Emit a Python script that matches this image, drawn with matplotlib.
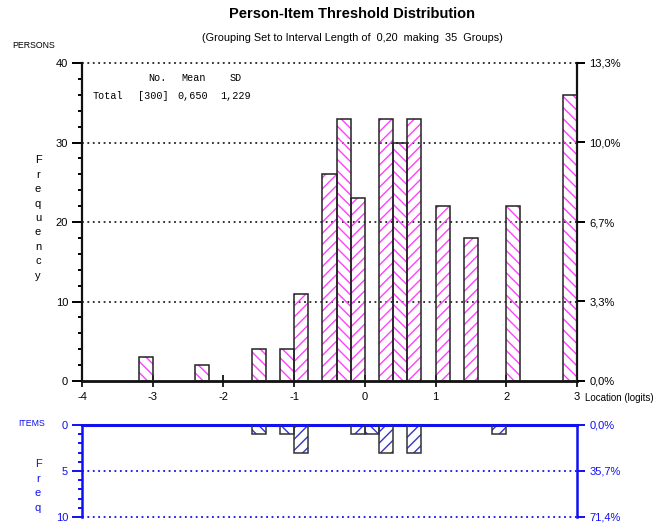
import matplotlib
matplotlib.use("Agg")
import matplotlib.pyplot as plt
from matplotlib.ticker import MultipleLocator

plt.rcParams['axes.unicode_minus'] = False
plt.rcParams['hatch.linewidth'] = 1.0

NARROW = ['Liberation Sans', 'DejaVu Sans']
MONO = ['Liberation Mono', 'DejaVu Sans Mono']

# ---- data ----
title = "Person-Item Threshold Distribution"
subtitle = "(Grouping Set to Interval Length of  0,20  making  35  Groups)"
interval = 0.2
person_bin_left = [-3.2, -2.4, -1.6, -1.2, -1.0, -0.6, -0.4, -0.2, 0.2, 0.4, 0.6, 1.0, 1.4, 2.0, 2.8]
person_counts = [3, 2, 4, 4, 11, 26, 33, 23, 33, 30, 33, 22, 18, 22, 36]
item_bin_left = [-1.6, -1.2, -1.0, -0.2, 0.0, 0.2, 0.6, 1.8]
item_counts = [1, 1, 3, 1, 1, 3, 3, 1]
n_persons = 300
n_items = 14
stats_header = ["No.", "Mean", "SD"]
stats_values = ["Total", "[300]", "0,650", "1,229"]
x_ticks = [-4, -3, -2, -1, 0, 1, 2, 3]
person_yticks = [0, 10, 20, 30, 40]
item_yticks = [0, 5, 10]

W, H = 662, 528
fig = plt.figure(figsize=(W / 100, H / 100), dpi=100)

def fx(px):
    return px / W

def fy(py):
    return 1 - py / H

def pct(v, n):
    return f"{v / n * 100:.1f}%".replace('.', ',')

def hatch_for(left):
    idx = int(round((left + 4) / interval))
    return '\\\\\\' if idx % 2 == 0 else '///'

BLUE = '#1010f0'

# ---- person axes ----
ax = fig.add_axes([fx(82), fy(381), fx(577) - fx(82), fy(63) - fy(381)])
ax.set_xlim(-4, 3)
ax.set_ylim(0, 40)
for l, c in zip(person_bin_left, person_counts):
    ax.bar(l, c, width=interval, align='edge', fill=False, edgecolor='#ff40ff',
           linewidth=0, hatch=hatch_for(l), zorder=2)
ax.bar(person_bin_left, person_counts, width=interval, align='edge', fill=False,
       edgecolor='#222222', linewidth=1.1, zorder=3)
for v in person_yticks[1:]:
    ax.axhline(v, color='#222222', linestyle=(0, (1, 2)), linewidth=1.3, zorder=1, clip_on=False)
ax.spines['top'].set_visible(False)
ax.spines['bottom'].set_linewidth(2)
ax.spines['left'].set_linewidth(1.6)
ax.spines['right'].set_linewidth(1.6)
for s in ax.spines.values():
    s.set_color('#111111')
ax.set_xticks(x_ticks)
ax.set_xticklabels([str(t) for t in x_ticks], fontfamily=NARROW, fontsize=8)
ax.tick_params(axis='x', direction='inout', length=8, width=1.2, pad=4)
ax.set_yticks(person_yticks)
ax.set_yticklabels([str(t) for t in person_yticks], fontfamily=NARROW, fontsize=8)
ax.yaxis.set_minor_locator(MultipleLocator(2))
ax.tick_params(axis='y', which='major', direction='out', length=7, width=1.4, pad=3)
ax.tick_params(axis='y', which='minor', direction='out', length=3, width=1.4)

ax2 = ax.twinx()
ax2.set_ylim(0, 40)
ax2.set_yticks(person_yticks)
ax2.set_yticklabels([pct(v, n_persons) for v in person_yticks], fontfamily=NARROW, fontsize=8)
ax2.tick_params(axis='y', direction='out', length=6, width=1.4, pad=3)
for s in ax2.spines.values():
    s.set_visible(False)

# ---- item axes ----
ax3 = fig.add_axes([fx(82), fy(517), fx(577) - fx(82), fy(425) - fy(517)])
ax3.set_xlim(-4, 3)
ax3.set_ylim(10, 0)
for l, c in zip(item_bin_left, item_counts):
    ax3.bar(l, c, width=interval, align='edge', fill=False, edgecolor='#3535c8',
            linewidth=0, hatch=hatch_for(l), zorder=2)
ax3.bar(item_bin_left, item_counts, width=interval, align='edge', fill=False,
        edgecolor='#333333', linewidth=1.1, zorder=3)
for v in item_yticks[1:]:
    ax3.axhline(v, color=BLUE, linestyle=(0, (1, 2)), linewidth=1.3, zorder=1, clip_on=False)
ax3.spines['bottom'].set_visible(False)
ax3.spines['top'].set_linewidth(2.2)
ax3.spines['left'].set_linewidth(1.8)
ax3.spines['right'].set_linewidth(1.8)
for s in ax3.spines.values():
    s.set_color(BLUE)
ax3.set_xticks([])
ax3.set_yticks(item_yticks)
ax3.set_yticklabels([str(t) for t in item_yticks], fontfamily=NARROW, fontsize=8, color=BLUE)
ax3.yaxis.set_minor_locator(MultipleLocator(1))
ax3.tick_params(axis='y', which='major', direction='out', length=7, width=1.4, pad=3, color=BLUE)
ax3.tick_params(axis='y', which='minor', direction='out', length=3, width=1.4, color=BLUE)

ax4 = ax3.twinx()
ax4.set_ylim(10, 0)
ax4.set_yticks(item_yticks)
ax4.set_yticklabels([pct(v, n_items) for v in item_yticks], fontfamily=NARROW, fontsize=8, color=BLUE)
ax4.tick_params(axis='y', direction='out', length=6, width=1.4, pad=3, color=BLUE)
for s in ax4.spines.values():
    s.set_visible(False)

# ---- texts ----
fig.text(fx(352), fy(14), title, ha='center', va='center', fontfamily=NARROW,
         fontsize=10.5, fontweight='bold')
fig.text(fx(352), fy(38), subtitle, ha='center', va='center', fontfamily=NARROW, fontsize=7.8)
fig.text(fx(12), fy(45), "PERSONS", ha='left', va='center', fontfamily=NARROW, fontsize=6.3)
fig.text(fx(38), fy(218), "\n".join("Frequency"), ha='center', va='center',
         fontfamily=NARROW, fontsize=8, linespacing=1.55)
fig.text(fx(585), fy(398), "Location (logits)", ha='left', va='center', fontfamily=NARROW, fontsize=7)
fig.text(fx(18), fy(423), "ITEMS", ha='left', va='center', fontfamily=NARROW, fontsize=6.3, color=BLUE)
fig.text(fx(38), fy(486), "\n".join("Freq"), ha='center', va='center',
         fontfamily=NARROW, fontsize=8, linespacing=1.6, color=BLUE)

hdr_x = [148, 181, 230]
for x, s in zip(hdr_x, stats_header):
    fig.text(fx(x), fy(78), s, ha='left', va='center', fontfamily=MONO, fontsize=7.3)
val_x = [93, 138, 177, 220]
for x, s in zip(val_x, stats_values):
    fig.text(fx(x), fy(96), s, ha='left', va='center', fontfamily=MONO, fontsize=7.3)

fig.savefig("out.png", dpi=100)
